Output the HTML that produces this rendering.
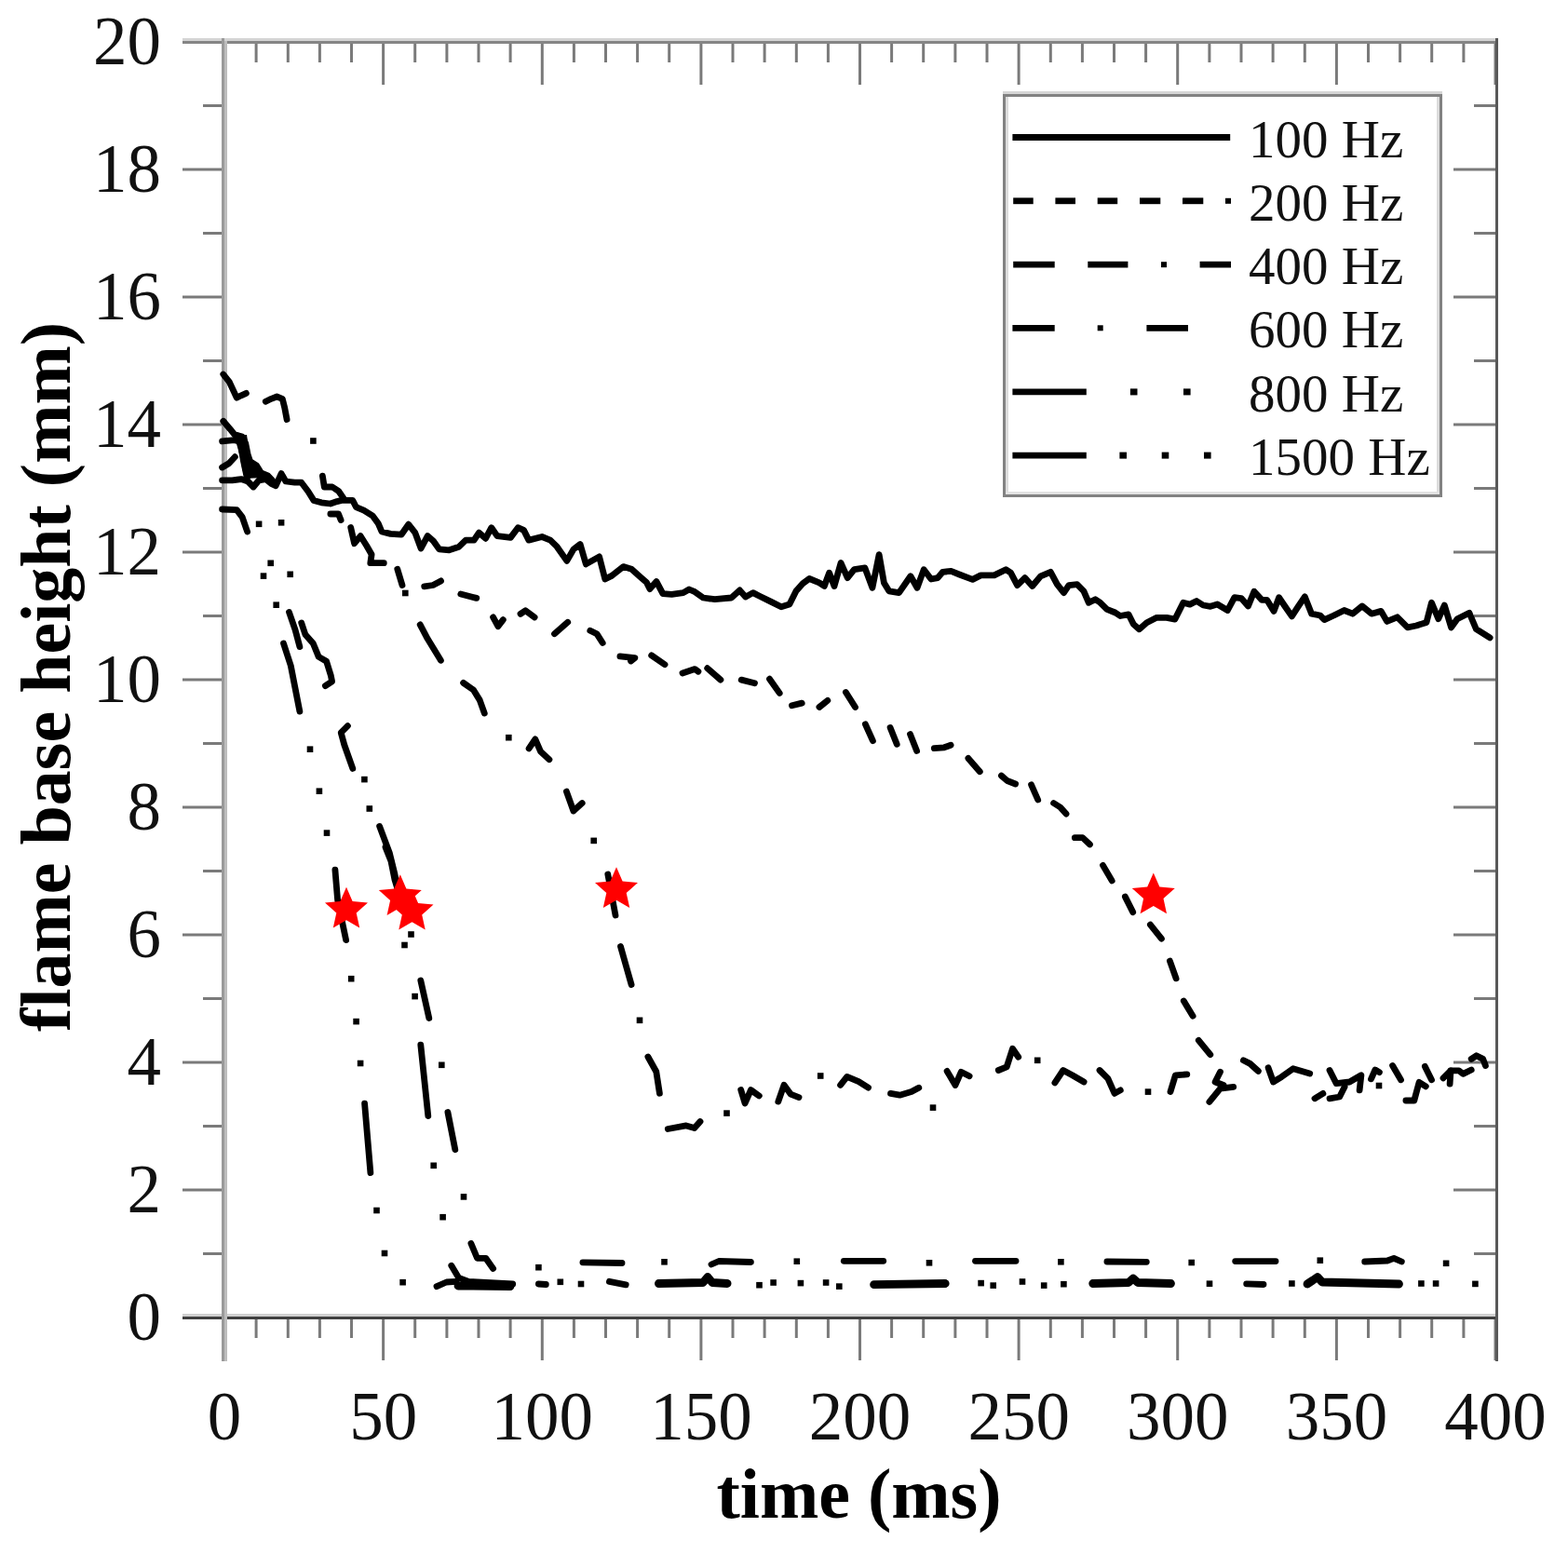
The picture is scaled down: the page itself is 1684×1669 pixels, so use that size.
<!DOCTYPE html>
<html><head><meta charset="utf-8"><style>
html,body{margin:0;padding:0;background:#fff;}
svg{display:block;}
.tl{font-family:"Liberation Serif",serif;font-size:73px;fill:#111;}
.lg{font-family:"Liberation Serif",serif;font-size:57px;fill:#111;}
.at{font-family:"Liberation Serif",serif;font-weight:bold;font-size:76px;fill:#000;}
</style></head><body>
<svg width="1684" height="1669" viewBox="0 0 1684 1669">
<rect x="196.0" y="1413.5" width="45" height="3" fill="#7a7a7a"/>
<rect x="1561.0" y="1413.5" width="45" height="3" fill="#7a7a7a"/>
<rect x="218.0" y="1345.0" width="23" height="3" fill="#7a7a7a"/>
<rect x="1583.0" y="1345.0" width="23" height="3" fill="#7a7a7a"/>
<rect x="196.0" y="1276.5" width="45" height="3" fill="#7a7a7a"/>
<rect x="1561.0" y="1276.5" width="45" height="3" fill="#7a7a7a"/>
<rect x="218.0" y="1208.0" width="23" height="3" fill="#7a7a7a"/>
<rect x="1583.0" y="1208.0" width="23" height="3" fill="#7a7a7a"/>
<rect x="196.0" y="1139.5" width="45" height="3" fill="#7a7a7a"/>
<rect x="1561.0" y="1139.5" width="45" height="3" fill="#7a7a7a"/>
<rect x="218.0" y="1071.0" width="23" height="3" fill="#7a7a7a"/>
<rect x="1583.0" y="1071.0" width="23" height="3" fill="#7a7a7a"/>
<rect x="196.0" y="1002.5" width="45" height="3" fill="#7a7a7a"/>
<rect x="1561.0" y="1002.5" width="45" height="3" fill="#7a7a7a"/>
<rect x="218.0" y="934.0" width="23" height="3" fill="#7a7a7a"/>
<rect x="1583.0" y="934.0" width="23" height="3" fill="#7a7a7a"/>
<rect x="196.0" y="865.5" width="45" height="3" fill="#7a7a7a"/>
<rect x="1561.0" y="865.5" width="45" height="3" fill="#7a7a7a"/>
<rect x="218.0" y="797.0" width="23" height="3" fill="#7a7a7a"/>
<rect x="1583.0" y="797.0" width="23" height="3" fill="#7a7a7a"/>
<rect x="196.0" y="728.5" width="45" height="3" fill="#7a7a7a"/>
<rect x="1561.0" y="728.5" width="45" height="3" fill="#7a7a7a"/>
<rect x="218.0" y="660.0" width="23" height="3" fill="#7a7a7a"/>
<rect x="1583.0" y="660.0" width="23" height="3" fill="#7a7a7a"/>
<rect x="196.0" y="591.5" width="45" height="3" fill="#7a7a7a"/>
<rect x="1561.0" y="591.5" width="45" height="3" fill="#7a7a7a"/>
<rect x="218.0" y="523.0" width="23" height="3" fill="#7a7a7a"/>
<rect x="1583.0" y="523.0" width="23" height="3" fill="#7a7a7a"/>
<rect x="196.0" y="454.5" width="45" height="3" fill="#7a7a7a"/>
<rect x="1561.0" y="454.5" width="45" height="3" fill="#7a7a7a"/>
<rect x="218.0" y="386.0" width="23" height="3" fill="#7a7a7a"/>
<rect x="1583.0" y="386.0" width="23" height="3" fill="#7a7a7a"/>
<rect x="196.0" y="317.5" width="45" height="3" fill="#7a7a7a"/>
<rect x="1561.0" y="317.5" width="45" height="3" fill="#7a7a7a"/>
<rect x="218.0" y="249.0" width="23" height="3" fill="#7a7a7a"/>
<rect x="1583.0" y="249.0" width="23" height="3" fill="#7a7a7a"/>
<rect x="196.0" y="180.5" width="45" height="3" fill="#7a7a7a"/>
<rect x="1561.0" y="180.5" width="45" height="3" fill="#7a7a7a"/>
<rect x="218.0" y="112.0" width="23" height="3" fill="#7a7a7a"/>
<rect x="1583.0" y="112.0" width="23" height="3" fill="#7a7a7a"/>
<rect x="196.0" y="43.5" width="45" height="3" fill="#7a7a7a"/>
<rect x="1561.0" y="43.5" width="45" height="3" fill="#7a7a7a"/>
<rect x="239.5" y="1415.0" width="3" height="46" fill="#7a7a7a"/>
<rect x="239.5" y="45.0" width="3" height="46" fill="#7a7a7a"/>
<rect x="273.6" y="1415.0" width="3" height="22" fill="#7a7a7a"/>
<rect x="273.6" y="45.0" width="3" height="22" fill="#7a7a7a"/>
<rect x="307.8" y="1415.0" width="3" height="22" fill="#7a7a7a"/>
<rect x="307.8" y="45.0" width="3" height="22" fill="#7a7a7a"/>
<rect x="341.9" y="1415.0" width="3" height="22" fill="#7a7a7a"/>
<rect x="341.9" y="45.0" width="3" height="22" fill="#7a7a7a"/>
<rect x="376.0" y="1415.0" width="3" height="22" fill="#7a7a7a"/>
<rect x="376.0" y="45.0" width="3" height="22" fill="#7a7a7a"/>
<rect x="410.1" y="1415.0" width="3" height="46" fill="#7a7a7a"/>
<rect x="410.1" y="45.0" width="3" height="46" fill="#7a7a7a"/>
<rect x="444.2" y="1415.0" width="3" height="22" fill="#7a7a7a"/>
<rect x="444.2" y="45.0" width="3" height="22" fill="#7a7a7a"/>
<rect x="478.4" y="1415.0" width="3" height="22" fill="#7a7a7a"/>
<rect x="478.4" y="45.0" width="3" height="22" fill="#7a7a7a"/>
<rect x="512.5" y="1415.0" width="3" height="22" fill="#7a7a7a"/>
<rect x="512.5" y="45.0" width="3" height="22" fill="#7a7a7a"/>
<rect x="546.6" y="1415.0" width="3" height="22" fill="#7a7a7a"/>
<rect x="546.6" y="45.0" width="3" height="22" fill="#7a7a7a"/>
<rect x="580.8" y="1415.0" width="3" height="46" fill="#7a7a7a"/>
<rect x="580.8" y="45.0" width="3" height="46" fill="#7a7a7a"/>
<rect x="614.9" y="1415.0" width="3" height="22" fill="#7a7a7a"/>
<rect x="614.9" y="45.0" width="3" height="22" fill="#7a7a7a"/>
<rect x="649.0" y="1415.0" width="3" height="22" fill="#7a7a7a"/>
<rect x="649.0" y="45.0" width="3" height="22" fill="#7a7a7a"/>
<rect x="683.1" y="1415.0" width="3" height="22" fill="#7a7a7a"/>
<rect x="683.1" y="45.0" width="3" height="22" fill="#7a7a7a"/>
<rect x="717.2" y="1415.0" width="3" height="22" fill="#7a7a7a"/>
<rect x="717.2" y="45.0" width="3" height="22" fill="#7a7a7a"/>
<rect x="751.4" y="1415.0" width="3" height="46" fill="#7a7a7a"/>
<rect x="751.4" y="45.0" width="3" height="46" fill="#7a7a7a"/>
<rect x="785.5" y="1415.0" width="3" height="22" fill="#7a7a7a"/>
<rect x="785.5" y="45.0" width="3" height="22" fill="#7a7a7a"/>
<rect x="819.6" y="1415.0" width="3" height="22" fill="#7a7a7a"/>
<rect x="819.6" y="45.0" width="3" height="22" fill="#7a7a7a"/>
<rect x="853.8" y="1415.0" width="3" height="22" fill="#7a7a7a"/>
<rect x="853.8" y="45.0" width="3" height="22" fill="#7a7a7a"/>
<rect x="887.9" y="1415.0" width="3" height="22" fill="#7a7a7a"/>
<rect x="887.9" y="45.0" width="3" height="22" fill="#7a7a7a"/>
<rect x="922.0" y="1415.0" width="3" height="46" fill="#7a7a7a"/>
<rect x="922.0" y="45.0" width="3" height="46" fill="#7a7a7a"/>
<rect x="956.1" y="1415.0" width="3" height="22" fill="#7a7a7a"/>
<rect x="956.1" y="45.0" width="3" height="22" fill="#7a7a7a"/>
<rect x="990.2" y="1415.0" width="3" height="22" fill="#7a7a7a"/>
<rect x="990.2" y="45.0" width="3" height="22" fill="#7a7a7a"/>
<rect x="1024.4" y="1415.0" width="3" height="22" fill="#7a7a7a"/>
<rect x="1024.4" y="45.0" width="3" height="22" fill="#7a7a7a"/>
<rect x="1058.5" y="1415.0" width="3" height="22" fill="#7a7a7a"/>
<rect x="1058.5" y="45.0" width="3" height="22" fill="#7a7a7a"/>
<rect x="1092.6" y="1415.0" width="3" height="46" fill="#7a7a7a"/>
<rect x="1092.6" y="45.0" width="3" height="46" fill="#7a7a7a"/>
<rect x="1126.8" y="1415.0" width="3" height="22" fill="#7a7a7a"/>
<rect x="1126.8" y="45.0" width="3" height="22" fill="#7a7a7a"/>
<rect x="1160.9" y="1415.0" width="3" height="22" fill="#7a7a7a"/>
<rect x="1160.9" y="45.0" width="3" height="22" fill="#7a7a7a"/>
<rect x="1195.0" y="1415.0" width="3" height="22" fill="#7a7a7a"/>
<rect x="1195.0" y="45.0" width="3" height="22" fill="#7a7a7a"/>
<rect x="1229.1" y="1415.0" width="3" height="22" fill="#7a7a7a"/>
<rect x="1229.1" y="45.0" width="3" height="22" fill="#7a7a7a"/>
<rect x="1263.2" y="1415.0" width="3" height="46" fill="#7a7a7a"/>
<rect x="1263.2" y="45.0" width="3" height="46" fill="#7a7a7a"/>
<rect x="1297.4" y="1415.0" width="3" height="22" fill="#7a7a7a"/>
<rect x="1297.4" y="45.0" width="3" height="22" fill="#7a7a7a"/>
<rect x="1331.5" y="1415.0" width="3" height="22" fill="#7a7a7a"/>
<rect x="1331.5" y="45.0" width="3" height="22" fill="#7a7a7a"/>
<rect x="1365.6" y="1415.0" width="3" height="22" fill="#7a7a7a"/>
<rect x="1365.6" y="45.0" width="3" height="22" fill="#7a7a7a"/>
<rect x="1399.8" y="1415.0" width="3" height="22" fill="#7a7a7a"/>
<rect x="1399.8" y="45.0" width="3" height="22" fill="#7a7a7a"/>
<rect x="1433.9" y="1415.0" width="3" height="46" fill="#7a7a7a"/>
<rect x="1433.9" y="45.0" width="3" height="46" fill="#7a7a7a"/>
<rect x="1468.0" y="1415.0" width="3" height="22" fill="#7a7a7a"/>
<rect x="1468.0" y="45.0" width="3" height="22" fill="#7a7a7a"/>
<rect x="1502.1" y="1415.0" width="3" height="22" fill="#7a7a7a"/>
<rect x="1502.1" y="45.0" width="3" height="22" fill="#7a7a7a"/>
<rect x="1536.2" y="1415.0" width="3" height="22" fill="#7a7a7a"/>
<rect x="1536.2" y="45.0" width="3" height="22" fill="#7a7a7a"/>
<rect x="1570.4" y="1415.0" width="3" height="22" fill="#7a7a7a"/>
<rect x="1570.4" y="45.0" width="3" height="22" fill="#7a7a7a"/>
<rect x="1604.5" y="1415.0" width="3" height="46" fill="#7a7a7a"/>
<rect x="1604.5" y="45.0" width="3" height="46" fill="#7a7a7a"/>
<rect x="196" y="41" width="1413" height="3" fill="#d4d4d4"/>
<rect x="196" y="44" width="1413" height="3" fill="#858585"/>
<rect x="196" y="1411" width="1413" height="3" fill="#d0d0d0"/>
<rect x="196" y="1414" width="1413" height="3" fill="#404040"/>
<rect x="238" y="41" width="3" height="1421" fill="#9a9a9a"/>
<rect x="241" y="44" width="3" height="1418" fill="#bdbdbd"/>
<rect x="1606" y="41" width="3" height="1421" fill="#585858"/>
<g fill="none" stroke="#000" stroke-width="6.8" stroke-linejoin="round" stroke-linecap="round">
<polyline points="238.6,515.8 249.4,515.8 259.0,514.6 266.2,517.0 272.1,523.0 278.1,515.8 285.3,514.6 291.3,519.4 296.1,521.8 302.1,508.6 306.9,517.0 316.5,518.2 323.7,518.2 330.9,527.8 336.9,537.4 345.2,539.8 354.8,541.0 362.0,538.6 366.8,537.4 378.8,537.4 382.4,544.6 390.8,548.2 400.4,554.2 406.4,562.6 410.0,571.0 419.5,573.4 431.0,574.2 438.7,563.2 445.8,572.1 452.1,589.0 459.2,575.6 465.4,581.0 471.7,589.9 482.4,590.8 493.0,587.2 500.2,580.1 509.1,580.1 514.4,572.1 521.5,578.3 527.8,566.7 534.0,575.6 548.3,577.4 556.3,566.7 562.5,569.4 567.9,580.1 582.1,576.5 591.0,580.1 598.2,587.2 608.8,602.4 616.0,589.9 623.1,584.5 629.3,605.9 643.6,597.9 649.8,622.0 657.0,618.4 669.4,608.6 678.3,611.3 687.2,619.3 694.4,625.5 697.9,632.6 705.0,624.6 711.9,637.7 721.4,638.4 733.8,636.6 740.1,633.0 746.3,635.7 755.2,642.0 767.7,643.7 785.5,642.0 794.4,633.9 800.7,641.1 808.7,636.6 815.8,640.2 828.3,646.4 839.0,651.8 847.9,649.1 855.0,634.8 862.1,626.8 869.2,621.5 879.9,625.9 885.3,629.5 890.6,615.2 896.0,629.5 903.1,604.5 910.2,620.6 917.4,611.7 928.9,609.9 936.9,631.3 944.1,595.6 949.4,625.9 954.8,634.8 965.5,636.6 977.9,618.8 985.0,631.3 992.2,611.7 1000.0,622.0 1007.1,620.6 1012.5,614.3 1021.4,613.4 1030.3,617.0 1044.5,622.4 1053.4,617.9 1067.7,617.9 1080.2,611.7 1085.5,615.2 1092.6,628.6 1100.7,620.6 1108.7,629.5 1117.6,618.8 1128.3,614.3 1135.4,627.7 1142.5,636.6 1147.9,628.6 1156.8,627.7 1163.9,634.8 1169.3,647.3 1176.4,643.7 1181.7,647.3 1188.8,654.4 1197.8,658.0 1203.1,661.5 1212.0,659.8 1217.4,670.5 1223.6,675.8 1231.6,668.7 1242.3,663.3 1253.0,663.3 1261.9,665.1 1270.8,647.3 1277.9,649.1 1285.1,645.5 1292.2,650.0 1300.0,651.3 1307.4,649.0 1318.4,655.5 1325.8,641.7 1333.1,642.6 1340.5,650.9 1346.9,635.2 1355.2,644.4 1360.8,644.4 1368.1,656.4 1373.6,641.7 1379.2,650.0 1387.4,661.9 1393.9,651.8 1401.3,640.8 1408.6,659.2 1417.8,661.0 1422.4,665.6 1432.5,661.0 1443.6,655.5 1452.8,659.2 1462.9,650.9 1473.0,659.2 1483.2,656.4 1489.6,667.4 1500.7,662.8 1511.7,673.9 1520.9,672.0 1532.0,668.4 1537.5,647.2 1544.8,664.7 1551.3,650.0 1558.6,673.9 1565.1,664.7 1578.0,658.2 1585.4,675.7 1600.1,684.9"/>
<polyline points="239.8,402.0 246.4,410.4 254.2,427.1 259.0,424.8 264.4,422.4"/>
<polyline points="285.3,431.3 291.3,428.3 297.3,426.0 303.3,428.3 305.7,437.9 308.1,450.5"/>
<polyline points="239.8,452.3 247.0,460.7 251.8,466.7 260.2,469.1 263.8,476.3 266.2,488.3 268.6,495.5 275.7,500.2 280.5,508.0 287.7,511.0 292.5,515.8"/>
<polyline points="255.0,468.0 258.5,480.0 261.5,492.0 263.5,503.0 266.0,512.0"/>
<polyline points="238.6,473.9 251.8,472.7 256.6,473.9"/>
<polyline points="238.6,502.0 245.8,497.8 252.3,490.7"/>
<polyline points="238.6,547.0 254.2,547.6 260.2,555.4 265.6,571.0"/>
<polyline points="346.4,511.2 348.3,523.0 356.9,523.0 363.5,527.3 368.8,534.9"/>
<polyline points="354.9,552.0 363.5,552.0 366.1,558.6"/>
<polyline points="376.7,566.5 380.6,583.7 387.2,575.7 393.8,586.3 399.1,595.5 397.8,604.7 412.3,604.7"/>
<polyline points="426.8,611.3 432.0,628.5"/>
<polyline points="455.7,629.8 465.0,628.5 473.5,623.9"/>
<polyline points="494.8,638.0 511.8,642.4"/>
<polyline points="529.6,662.9 534.9,672.7 540.3,665.6"/>
<polyline points="559.0,659.4 564.3,655.8 574.1,662.9"/>
<polyline points="595.5,680.7 609.7,668.3"/>
<polyline points="633.8,677.2 640.9,680.7 647.2,690.5"/>
<polyline points="665.9,704.8 681.9,706.6 677.5,710.0"/>
<polyline points="699.7,703.9 714.0,713.7"/>
<polyline points="733.0,723.0 746.3,718.6 749.9,721.2"/>
<polyline points="759.7,717.7 773.9,730.1"/>
<polyline points="796.2,730.1 810.5,733.7"/>
<polyline points="826.5,729.2 837.2,744.4"/>
<polyline points="850.5,757.8 861.2,755.1"/>
<polyline points="879.9,759.5 888.8,752.4"/>
<polyline points="908.4,743.5 918.5,759.5"/>
<polyline points="929.4,777.9 937.4,795.7"/>
<polyline points="956.1,781.5 963.2,799.3"/>
<polyline points="977.5,788.6 984.6,806.4"/>
<polyline points="1003.3,803.7 1014.0,802.8 1021.1,800.2"/>
<polyline points="1039.9,814.4 1052.3,828.7"/>
<polyline points="1075.5,833.1 1081.7,838.5 1090.6,842.0"/>
<polyline points="1107.6,842.9 1114.7,859.0"/>
<polyline points="1131.6,862.5 1138.7,867.0 1145.0,874.1"/>
<polyline points="1154.3,899.7 1162.7,899.6 1170.5,907.0"/>
<polyline points="1184.5,929.4 1194.2,945.9"/>
<polyline points="1208.4,963.1 1216.7,979.6"/>
<polyline points="1235.4,993.1 1247.4,1008.1"/>
<polyline points="1256.4,1032.1 1263.1,1050.8"/>
<polyline points="1271.3,1075.0 1281.1,1091.2"/>
<polyline points="1287.3,1117.4 1299.8,1132.6"/>
<polyline points="1298.9,1183.3 1310.5,1169.1 1324.7,1167.3"/>
<polyline points="1310.5,1151.3 1305.1,1162.0 1314.0,1165.5"/>
<polyline points="1335.4,1138.8 1342.5,1142.4 1351.4,1150.4"/>
<polyline points="1362.1,1146.8 1367.5,1162.0 1376.4,1156.6 1388.8,1147.7 1406.7,1153.0"/>
<polyline points="1428.0,1149.5 1435.2,1163.7 1449.4,1162.0 1461.9,1154.8 1460.1,1170.9"/>
<polyline points="1412.0,1179.8 1420.9,1174.4"/>
<polyline points="1428.0,1179.8 1438.7,1178.0 1444.1,1167.3"/>
<polyline points="1472.5,1158.8 1476.9,1149.0 1481.4,1151.7"/>
<polyline points="1495.6,1144.5 1504.5,1159.7"/>
<polyline points="1509.9,1182.0 1518.8,1182.0 1524.1,1162.3 1531.3,1166.8"/>
<polyline points="1530.4,1145.4 1537.5,1159.7"/>
<polyline points="1550.0,1157.9 1558.0,1149.9 1566.9,1149.9 1571.3,1153.4 1580.2,1149.0"/>
<polyline points="1558.0,1150.0 1557.1,1164.1"/>
<polyline points="1580.2,1137.4 1585.6,1133.8 1592.7,1137.4 1595.4,1144.5"/>
<polyline points="1257.0,1172.6 1262.4,1154.8 1274.8,1153.9"/>
<polyline points="666.5,1016.5 672.8,1038.8 678.1,1057.5"/>
<polyline points="695.9,1135.0 704.8,1151.0 708.4,1174.2"/>
<polyline points="717.3,1212.5 736.9,1208.9 745.8,1211.6 752.0,1204.5"/>
<polyline points="795.7,1170.6 800.1,1184.9 806.4,1170.6 815.3,1176.9"/>
<polyline points="835.8,1183.1 842.0,1165.3 849.1,1175.1 858.0,1178.6"/>
<polyline points="902.6,1165.3 909.7,1156.4 922.2,1161.7 932.5,1168.2"/>
<polyline points="956.5,1174.4 966.3,1176.2 978.8,1172.6 986.8,1168.2"/>
<polyline points="1017.1,1150.4 1026.0,1165.5 1032.2,1151.3 1041.1,1155.7"/>
<polyline points="1072.3,1149.5 1081.2,1145.9 1087.5,1126.3 1093.7,1135.2"/>
<polyline points="1132.9,1162.8 1141.8,1149.5 1151.6,1154.8 1164.1,1162.0"/>
<polyline points="1181.0,1149.5 1189.9,1158.4 1197.0,1174.4 1203.3,1170.9"/>
<polyline points="451.2,670.9 459.2,686.1 473.4,709.3"/>
<polyline points="497.6,733.4 508.5,741.0 515.2,751.9 520.3,766.1"/>
<polyline points="568.1,803.9 574.8,793.8 580.7,807.3 589.9,815.7"/>
<polyline points="608.4,850.1 615.9,871.0 625.2,862.6"/>
<polyline points="652.8,939.0 661.0,983.0"/>
<polyline points="310.5,657.5 317.1,676.7 321.9,694.6"/>
<polyline points="323.7,668.9 327.9,681.5 336.3,691.0 342.2,705.4 350.6,710.2 355.4,725.8 356.6,731.8 349.4,736.6"/>
<polyline points="304.5,691.0 312.3,715.0 321.9,764.1"/>
<polyline points="373.4,779.7 366.2,786.9 369.8,800.0 378.8,825.4"/>
<polyline points="407.6,887.4 418.4,916.2 423.7,937.7 427.3,955.7"/>
<polyline points="414.0,910.0 420.0,925.0 424.0,945.0 428.0,958.0"/>
<polyline points="359.9,934.1 362.6,966.5 371.6,1009.6"/>
<polyline points="391.6,1185.2 397.9,1259.6"/>
<polyline points="451.8,1053.0 460.8,1093.5"/>
<polyline points="451.8,1122.2 459.8,1198.5"/>
<polyline points="480.9,1194.5 488.8,1234.7"/>
<polyline points="505.9,1335.5 512.5,1351.3 521.7,1351.3 529.6,1362.5"/>
<polyline points="484.8,1359.2 492.7,1372.4 503.3,1376.4 550.7,1379.0"/>
<polyline points="469.0,1381.6 479.5,1377.0 490.1,1376.4"/>
<polyline points="492.0,1381.0 548.0,1381.5" stroke-width="8.8"/>
<polyline points="625.9,1355.8 668.0,1356.5"/>
<polyline points="764.0,1358.0 772.0,1354.5 806.4,1355.5"/>
<polyline points="906.3,1354.3 948.7,1354.3"/>
<polyline points="1047.5,1354.3 1091.0,1354.3"/>
<polyline points="1188.9,1355.0 1231.3,1355.3"/>
<polyline points="1326.7,1354.6 1370.0,1354.6"/>
<polyline points="1465.7,1355.0 1490.0,1354.0 1497.0,1351.3 1505.3,1355.0"/>
<polyline points="654.4,1376.3 672.2,1379.9"/>
<polyline points="707.4,1378.5 755.0,1377.5 760.0,1371.5 765.0,1377.5 781.1,1378.5" stroke-width="8.8"/>
<polyline points="938.6,1379.6 1015.2,1378.5" stroke-width="8.8"/>
<polyline points="1173.7,1378.5 1212.0,1377.5 1217.0,1373.0 1222.0,1377.5 1257.5,1378.5" stroke-width="8.8"/>
<polyline points="1338.7,1378.9 1357.0,1379.5"/>
<polyline points="1404.0,1379.0 1410.0,1375.0 1415.0,1371.5 1420.0,1377.0 1502.5,1379.0" stroke-width="8.8"/>
<polyline points="578.4,1379.0 586.3,1379.5"/>
</g>
<polygon points="253.5,467 265,467 267.4,483 270.1,494 278,502 289,512.8 262,514 258,495" fill="#000"/>
<g fill="#000">
<rect x="333.1" y="470.2" width="6.6" height="6.6"/>
<rect x="274.8" y="559.5" width="6.6" height="6.6"/>
<rect x="298.8" y="558.0" width="6.6" height="6.6"/>
<rect x="432.0" y="633.7" width="6.6" height="6.6"/>
<rect x="287.4" y="601.5" width="6.6" height="6.6"/>
<rect x="279.7" y="615.3" width="6.6" height="6.6"/>
<rect x="308.4" y="613.5" width="6.6" height="6.6"/>
<rect x="293.4" y="646.4" width="6.6" height="6.6"/>
<rect x="329.7" y="801.4" width="6.6" height="6.6"/>
<rect x="388.1" y="833.8" width="6.6" height="6.6"/>
<rect x="339.6" y="846.4" width="6.6" height="6.6"/>
<rect x="393.5" y="865.2" width="6.6" height="6.6"/>
<rect x="347.7" y="891.3" width="6.6" height="6.6"/>
<rect x="431.2" y="1011.7" width="6.6" height="6.6"/>
<rect x="438.2" y="1000.2" width="6.6" height="6.6"/>
<rect x="373.9" y="1047.9" width="6.6" height="6.6"/>
<rect x="379.3" y="1093.8" width="6.6" height="6.6"/>
<rect x="383.8" y="1138.7" width="6.6" height="6.6"/>
<rect x="401.2" y="1296.7" width="6.6" height="6.6"/>
<rect x="409.7" y="1342.7" width="6.6" height="6.6"/>
<rect x="429.3" y="1373.9" width="6.6" height="6.6"/>
<rect x="442.3" y="1066.8" width="6.6" height="6.6"/>
<rect x="471.0" y="1140.5" width="6.6" height="6.6"/>
<rect x="462.4" y="1248.5" width="6.6" height="6.6"/>
<rect x="494.7" y="1282.1" width="6.6" height="6.6"/>
<rect x="472.3" y="1303.9" width="6.6" height="6.6"/>
<rect x="575.1" y="1357.9" width="6.6" height="6.6"/>
<rect x="543.0" y="788.9" width="6.6" height="6.6"/>
<rect x="634.4" y="899.6" width="6.6" height="6.6"/>
<rect x="683.7" y="1092.5" width="6.6" height="6.6"/>
<rect x="777.2" y="1192.3" width="6.6" height="6.6"/>
<rect x="877.9" y="1152.2" width="6.6" height="6.6"/>
<rect x="998.7" y="1186.3" width="6.6" height="6.6"/>
<rect x="1110.9" y="1135.5" width="6.6" height="6.6"/>
<rect x="1229.7" y="1169.3" width="6.6" height="6.6"/>
<rect x="1477.7" y="1162.7" width="6.6" height="6.6"/>
<rect x="710.2" y="1352.0" width="6.6" height="6.6"/>
<rect x="852.5" y="1351.4" width="6.6" height="6.6"/>
<rect x="994.7" y="1353.0" width="6.6" height="6.6"/>
<rect x="1136.1" y="1352.0" width="6.6" height="6.6"/>
<rect x="1276.4" y="1352.7" width="6.6" height="6.6"/>
<rect x="1414.5" y="1350.4" width="6.6" height="6.6"/>
<rect x="1549.8" y="1353.5" width="6.6" height="6.6"/>
<rect x="598.5" y="1373.5" width="6.6" height="6.6"/>
<rect x="620.7" y="1375.7" width="6.6" height="6.6"/>
<rect x="812.2" y="1376.9" width="6.6" height="6.6"/>
<rect x="827.3" y="1374.2" width="6.6" height="6.6"/>
<rect x="856.6" y="1374.8" width="6.6" height="6.6"/>
<rect x="883.8" y="1374.2" width="6.6" height="6.6"/>
<rect x="898.0" y="1378.3" width="6.6" height="6.6"/>
<rect x="1050.3" y="1374.8" width="6.6" height="6.6"/>
<rect x="1063.4" y="1377.3" width="6.6" height="6.6"/>
<rect x="1094.7" y="1373.2" width="6.6" height="6.6"/>
<rect x="1117.9" y="1377.3" width="6.6" height="6.6"/>
<rect x="1139.1" y="1375.9" width="6.6" height="6.6"/>
<rect x="1295.7" y="1375.4" width="6.6" height="6.6"/>
<rect x="1384.1" y="1375.2" width="6.6" height="6.6"/>
<rect x="1523.1" y="1375.2" width="6.6" height="6.6"/>
<rect x="1538.8" y="1375.2" width="6.6" height="6.6"/>
<rect x="1581.1" y="1375.6" width="6.6" height="6.6"/>
</g>
<path d="M372.0,952.8 L378.6,967.9 L395.0,969.5 L382.7,980.5 L386.2,996.6 L372.0,988.3 L357.8,996.6 L361.3,980.5 L349.0,969.5 L365.4,967.9Z" fill="#f00"/>
<path d="M429.8,939.3 L436.4,954.4 L452.8,956.0 L440.5,967.0 L444.0,983.1 L429.8,974.8 L415.6,983.1 L419.1,967.0 L406.8,956.0 L423.2,954.4Z" fill="#f00"/>
<path d="M442.5,954.8 L449.1,969.9 L465.5,971.5 L453.2,982.5 L456.7,998.6 L442.5,990.3 L428.3,998.6 L431.8,982.5 L419.5,971.5 L435.9,969.9Z" fill="#f00"/>
<path d="M662.0,931.3 L668.6,946.4 L685.0,948.0 L672.7,959.0 L676.2,975.1 L662.0,966.8 L647.8,975.1 L651.3,959.0 L639.0,948.0 L655.4,946.4Z" fill="#f00"/>
<path d="M1238.8,937.4 L1245.4,952.5 L1261.8,954.1 L1249.5,965.1 L1253.0,981.2 L1238.8,972.9 L1224.6,981.2 L1228.1,965.1 L1215.8,954.1 L1232.2,952.5Z" fill="#f00"/>
<text x="173" y="1439.0" text-anchor="end" class="tl">0</text>
<text x="173" y="1302.0" text-anchor="end" class="tl">2</text>
<text x="173" y="1165.0" text-anchor="end" class="tl">4</text>
<text x="173" y="1028.0" text-anchor="end" class="tl">6</text>
<text x="173" y="891.0" text-anchor="end" class="tl">8</text>
<text x="173" y="754.0" text-anchor="end" class="tl">10</text>
<text x="173" y="617.0" text-anchor="end" class="tl">12</text>
<text x="173" y="480.0" text-anchor="end" class="tl">14</text>
<text x="173" y="343.0" text-anchor="end" class="tl">16</text>
<text x="173" y="206.0" text-anchor="end" class="tl">18</text>
<text x="173" y="69.0" text-anchor="end" class="tl">20</text>
<text x="241.0" y="1546" text-anchor="middle" class="tl">0</text>
<text x="411.625" y="1546" text-anchor="middle" class="tl">50</text>
<text x="582.25" y="1546" text-anchor="middle" class="tl">100</text>
<text x="752.875" y="1546" text-anchor="middle" class="tl">150</text>
<text x="923.5" y="1546" text-anchor="middle" class="tl">200</text>
<text x="1094.125" y="1546" text-anchor="middle" class="tl">250</text>
<text x="1264.75" y="1546" text-anchor="middle" class="tl">300</text>
<text x="1435.375" y="1546" text-anchor="middle" class="tl">350</text>
<text x="1606.0" y="1546" text-anchor="middle" class="tl">400</text>
<text x="922.5" y="1629.5" text-anchor="middle" class="at">time (ms)</text>
<text transform="translate(74.5,726.9) rotate(-90)" text-anchor="middle" class="at">flame base height (mm)</text>
<rect x="1078.5" y="102.5" width="469" height="430" fill="#fff" stroke="#828282" stroke-width="3"/>
<rect x="1077" y="98" width="472" height="3" fill="#d6d6d6"/>
<rect x="1080" y="104" width="3" height="427" fill="#dcdcdc"/>
<rect x="1543" y="104" width="3" height="427" fill="#dcdcdc"/>
<rect x="1080" y="528" width="466" height="3" fill="#e2e2e2"/>
<text x="1341" y="168.5" class="lg">100 Hz</text>
<text x="1341" y="236.8" class="lg">200 Hz</text>
<text x="1341" y="304.5" class="lg">400 Hz</text>
<text x="1341" y="372.8" class="lg">600 Hz</text>
<text x="1341" y="441.7" class="lg">800 Hz</text>
<text x="1341" y="509.90000000000003" class="lg">1500 Hz</text>
<line x1="1087.4" y1="147.5" x2="1321.2" y2="147.5" stroke="#000" stroke-width="6.8"/>
<line x1="1088.2" y1="215.8" x2="1109.7" y2="215.8" stroke="#000" stroke-width="6.8"/>
<line x1="1133.4" y1="215.8" x2="1155" y2="215.8" stroke="#000" stroke-width="6.8"/>
<line x1="1178.7" y1="215.8" x2="1200.2" y2="215.8" stroke="#000" stroke-width="6.8"/>
<line x1="1224" y1="215.8" x2="1246.3" y2="215.8" stroke="#000" stroke-width="6.8"/>
<line x1="1270" y1="215.8" x2="1292.3" y2="215.8" stroke="#000" stroke-width="6.8"/>
<rect x="1316" y="212.8" width="6" height="6" fill="#000"/>
<line x1="1088.2" y1="284.2" x2="1132.7" y2="284.2" stroke="#000" stroke-width="6.8"/>
<line x1="1168.3" y1="284.2" x2="1211.4" y2="284.2" stroke="#000" stroke-width="6.8"/>
<line x1="1288.6" y1="284.2" x2="1322" y2="284.2" stroke="#000" stroke-width="6.8"/>
<rect x="1247" y="281.2" width="6" height="6" fill="#000"/>
<line x1="1087.4" y1="352.3" x2="1132.7" y2="352.3" stroke="#000" stroke-width="6.8"/>
<line x1="1231.4" y1="352.3" x2="1276" y2="352.3" stroke="#000" stroke-width="6.8"/>
<rect x="1178.7" y="349.3" width="6" height="6" fill="#000"/>
<line x1="1087.4" y1="420.9" x2="1166.8" y2="420.9" stroke="#000" stroke-width="6.8"/>
<rect x="1213.9" y="417.4" width="7.6" height="7" fill="#000"/>
<rect x="1271.0" y="417.4" width="7.6" height="7" fill="#000"/>
<line x1="1087.4" y1="489.1" x2="1166.8" y2="489.1" stroke="#000" stroke-width="6.8"/>
<rect x="1202.4" y="485.6" width="7.6" height="7" fill="#000"/>
<rect x="1247.7" y="485.6" width="7.6" height="7" fill="#000"/>
<rect x="1293.0" y="485.6" width="7.6" height="7" fill="#000"/>
</svg>
</body></html>
